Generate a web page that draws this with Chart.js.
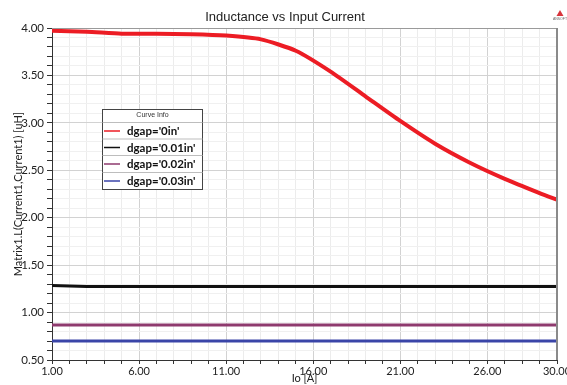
<!DOCTYPE html>
<html><head><meta charset="utf-8">
<script src="https://cdn.jsdelivr.net/npm/chart.js"></script>
<style>html,body{margin:0;padding:0;background:#fff}#wrap{width:567px;height:385px;position:relative}</style>
</head><body><div id="wrap"><canvas id="c" width="567" height="385"></canvas></div>
<script>
const chartTitle = "Inductance vs Input Current";
const xTitle = "Io [A]";
const yTitle = "Matrix1.L(Current1,Current1) [uH]";
const current = [1, 3, 5, 7, 9, 11, 13, 15, 17, 19, 21, 23, 25, 27, 29, 30];
const L_0in   = [3.97, 3.96, 3.94, 3.94, 3.935, 3.92, 3.88, 3.76, 3.54, 3.28, 3.02, 2.78, 2.58, 2.41, 2.26, 2.19];
const L_001in = [1.285, 1.275, 1.275, 1.275, 1.275, 1.275, 1.275, 1.275, 1.275, 1.275, 1.275, 1.275, 1.275, 1.275, 1.275, 1.275];
const L_002in = [0.87, 0.87, 0.87, 0.87, 0.87, 0.87, 0.87, 0.87, 0.87, 0.87, 0.87, 0.87, 0.87, 0.87, 0.87, 0.87];
const L_003in = [0.70, 0.70, 0.70, 0.70, 0.70, 0.70, 0.70, 0.70, 0.70, 0.70, 0.70, 0.70, 0.70, 0.70, 0.70, 0.70];
const seriesLabels = ["dgap='0in'", "dgap='0.01in'", "dgap='0.02in'", "dgap='0.03in'"];
const seriesColors = ["#ec1c24", "#111111", "#8e3a6e", "#3a45a8"];
const seriesWidths = [4, 3, 3, 3];
const xTickLabels = [1, 6, 11, 16, 21, 26, 30];
const yTickLabels = [0.5, 1.0, 1.5, 2.0, 2.5, 3.0, 3.5, 4.0];

const seriesValues = [L_0in, L_001in, L_002in, L_003in];
const isLabel = (arr, v) => arr.some(a => Math.abs(a - v) < 1e-6);

const datasets = seriesValues.map((vals, i) => ({
  label: seriesLabels[i],
  data: current.map((x, j) => ({x: x, y: vals[j]})),
  borderColor: seriesColors[i],
  backgroundColor: seriesColors[i],
  borderWidth: seriesWidths[i],
  pointRadius: 0,
  tension: 0.2,
  fill: false
})).reverse();

const deco = {
  id: 'deco',
  afterDatasetsDraw(chart) {
    const ctx = chart.ctx, a = chart.chartArea;
    ctx.save();
    ctx.strokeStyle = '#9a9a9a';
    ctx.lineWidth = 1;
    ctx.beginPath(); ctx.moveTo(a.left, a.top + 0.5); ctx.lineTo(a.right, a.top + 0.5); ctx.stroke();
    ctx.strokeStyle = '#8a8a8a';
    ctx.lineWidth = 2;
    ctx.beginPath(); ctx.moveTo(a.right, a.top); ctx.lineTo(a.right, a.bottom); ctx.stroke();
    // legend
    const bx = 102.5, by = 109.5, bw = 100, bh = 80;
    ctx.fillStyle = '#fff';
    ctx.fillRect(bx, by, bw, bh);
    ctx.strokeStyle = '#444'; ctx.lineWidth = 1;
    ctx.strokeRect(bx, by, bw, bh);
    ctx.fillStyle = '#333';
    ctx.font = '7px "Liberation Sans", Arial, sans-serif';
    ctx.textAlign = 'center'; ctx.textBaseline = 'middle';
    ctx.fillText('Curve Info', bx + bw / 2, by + 6);
    const rowTop = [122, 138.5, 155, 172];
    ctx.strokeStyle = '#bdbdbd';
    rowTop.forEach(t => { ctx.beginPath(); ctx.moveTo(bx, t + 0.5); ctx.lineTo(bx + bw, t + 0.5); ctx.stroke(); });
    ctx.textAlign = 'left';
    ctx.font = 'bold 11.5px Lato, "Open Sans", sans-serif';
    seriesLabels.forEach((lab, i) => {
      const cy = rowTop[i] + 9;
      ctx.strokeStyle = seriesColors[i]; ctx.lineWidth = 1.5;
      ctx.beginPath(); ctx.moveTo(104, cy); ctx.lineTo(120, cy); ctx.stroke();
      ctx.fillStyle = '#111';
      ctx.fillText(lab, 127, cy + 0.5);
    });
    ctx.restore();
  },
  afterDraw(chart) {
    const ctx = chart.ctx;
    ctx.save();
    ctx.fillStyle = '#222';
    ctx.font = '13px "Liberation Sans", Arial, sans-serif';
    ctx.textAlign = 'center'; ctx.textBaseline = 'alphabetic';
    ctx.fillText(chartTitle, 285, 21);
    ctx.fillStyle = '#d8343c';
    ctx.beginPath(); ctx.moveTo(560, 10); ctx.lineTo(556.5, 16); ctx.lineTo(563.5, 16); ctx.closePath(); ctx.fill();
    ctx.font = '3.5px "Liberation Sans", Arial, sans-serif';
    ctx.fillStyle = '#666';
    ctx.fillText('ANSOFT', 560, 20);
    ctx.restore();
  }
};

new Chart(document.getElementById('c'), {
  type: 'line',
  data: { datasets },
  plugins: [deco],
  options: {
    responsive: false,
    devicePixelRatio: 1,
    animation: false,
    layout: { padding: { top: 28, right: 10, left: 0, bottom: 0 } },
    plugins: { legend: { display: false }, title: { display: false }, tooltip: { enabled: false } },
    scales: {
      x: {
        type: 'linear', min: 1, max: 30,
        afterFit(s) { s.height = 25; s.paddingLeft = 0; s.paddingRight = 0; },
        ticks: {
          stepSize: 1, autoSkip: false, maxRotation: 0, padding: 1,
          color: '#222', font: { family: 'Lato, "Open Sans", sans-serif', size: 11 },
          callback: v => isLabel(xTickLabels, v) ? v.toFixed(2) : ''
        },
        grid: {
          color: c => (c.tick && isLabel(xTickLabels, c.tick.value)) ? '#d2d2d2' : '#ececec',
          tickLength: 4, tickColor: '#333'
        },
        border: { display: true, color: '#333', width: 1 },
        title: { display: true, text: xTitle, color: '#222', font: { family: 'Lato, "Open Sans", sans-serif', size: 11 }, padding: { top: 0, bottom: 0 } }
      },
      y: {
        min: 0.5, max: 4.0,
        afterFit(s) { s.width = 52; s.paddingTop = 0; s.paddingBottom = 0; },
        ticks: {
          stepSize: 0.1, autoSkip: false, padding: 3,
          color: '#222', font: { family: 'Lato, "Open Sans", sans-serif', size: 11.5 },
          callback: v => isLabel(yTickLabels, v) ? v.toFixed(2) : ''
        },
        grid: {
          color: c => (c.tick && isLabel(yTickLabels, c.tick.value)) ? '#d2d2d2' : '#f0f0f0',
          tickLength: 5, tickColor: '#333'
        },
        border: { display: true, color: '#333', width: 1 },
        title: { display: true, text: yTitle, color: '#222', font: { family: 'Lato, "Open Sans", sans-serif', size: 11 }, padding: { top: 12, bottom: 0 } }
      }
    }
  }
});
</script></body></html>
